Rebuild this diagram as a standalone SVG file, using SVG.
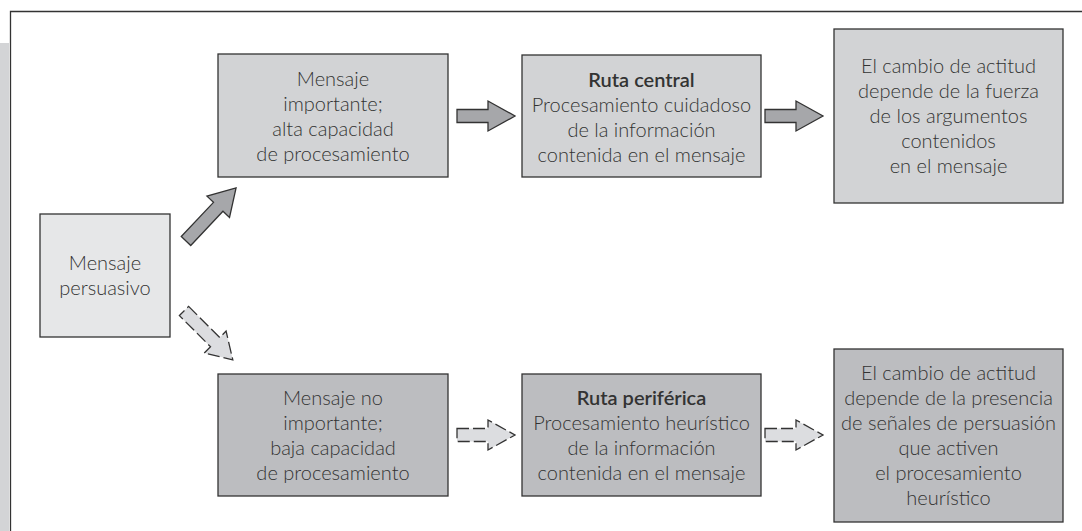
<svg xmlns="http://www.w3.org/2000/svg" width="1082" height="531" viewBox="0 0 1082 531">
<style>
.t{font-family:Lato,"Open Sans","Liberation Sans",sans-serif;font-weight:300;font-size:20px;fill:#333;text-anchor:middle}
.b{font-weight:600}
.box{stroke:#333;stroke-width:1.3}
.l1{fill:#d2d3d5}
.l2{fill:#bcbdc0}
.l0{fill:#e6e7e8}
.sa{fill:#a6a7aa;stroke:#333;stroke-width:1.3;stroke-linejoin:miter}
.da{fill:#dcdde0;stroke:#333;stroke-width:1.3;stroke-dasharray:12 4}
</style>
<defs>
<path id="ha" d="M0,-6.5 H31 V-15 L58,0 L31,15 V6.5 H0 Z"/>
</defs>
<rect x="0" y="43" width="9" height="488" fill="#d3d4d6"/>
<path d="M10.5,531 V11.5 H1082" fill="none" stroke="#333" stroke-width="1.3"/>

<g id="persuasivo">
<rect class="box l0" x="40" y="214" width="130" height="123"/>
<text class="t" x="105" y="270">Mensaje</text>
<text class="t" x="105" y="295">persuasivo</text>
</g>

<g id="importante">
<rect class="box l1" x="218" y="54" width="230" height="123"/>
<text class="t" x="333" y="85.5">Mensaje</text>
<text class="t" x="333" y="110.5">importante;</text>
<text class="t" x="333" y="135.5">alta capacidad</text>
<text class="t" x="333" y="160.5">de procesamiento</text>
</g>

<g id="ruta-central">
<rect class="box l1" x="522" y="55" width="239" height="122"/>
<text class="t b" x="641.5" y="87">Ruta central</text>
<text class="t" x="641.5" y="112">Procesamiento cuidadoso</text>
<text class="t" x="641.5" y="137">de la información</text>
<text class="t" x="641.5" y="162">contenida en el mensaje</text>
</g>

<g id="cambio-central">
<rect class="box l1" x="834" y="29" width="229" height="174"/>
<text class="t" x="948.5" y="73">El cambio de actitud</text>
<text class="t" x="948.5" y="98">depende de la fuerza</text>
<text class="t" x="948.5" y="123">de los argumentos</text>
<text class="t" x="948.5" y="148">contenidos</text>
<text class="t" x="948.5" y="173">en el mensaje</text>
</g>

<g id="no-importante">
<rect class="box l2" x="218" y="374" width="230" height="122"/>
<text class="t" x="333" y="404.5">Mensaje no</text>
<text class="t" x="333" y="429.5">importante;</text>
<text class="t" x="333" y="454.5">baja capacidad</text>
<text class="t" x="333" y="479.5">de procesamiento</text>
</g>

<g id="ruta-periferica">
<rect class="box l2" x="522" y="374" width="239" height="122"/>
<text class="t b" x="641.5" y="404.5">Ruta periférica</text>
<text class="t" x="641.5" y="429.5">Procesamiento heurístico</text>
<text class="t" x="641.5" y="454.5">de la información</text>
<text class="t" x="641.5" y="479.5">contenida en el mensaje</text>
</g>

<g id="cambio-periferico">
<rect class="box l2" x="834" y="349" width="229" height="173"/>
<text class="t" x="948.5" y="380">El cambio de actitud</text>
<text class="t" x="948.5" y="405">depende de la presencia</text>
<text class="t" x="948.5" y="430">de señales de persuasión</text>
<text class="t" x="948.5" y="455">que activen</text>
<text class="t" x="948.5" y="480">el procesamiento</text>
<text class="t" x="948.5" y="505">heurístico</text>
</g>

<g id="connectors">
<path class="sa" transform="translate(186,241) rotate(-46.7)" d="M0,-6.5 H47 V-15.5 L73,0 L47,15.5 V6.5 H0 Z"/>
<path class="da" transform="translate(184,311) rotate(45)" d="M0,-6.5 H44 V-15.5 L69,0 L44,15.5 V6.5 H0 Z"/>
<use href="#ha" class="sa" transform="translate(457,116)"/>
<use href="#ha" class="sa" transform="translate(765,116)"/>
<use href="#ha" class="da" transform="translate(457,435)"/>
<use href="#ha" class="da" transform="translate(765,435)"/>
</g>
</svg>
